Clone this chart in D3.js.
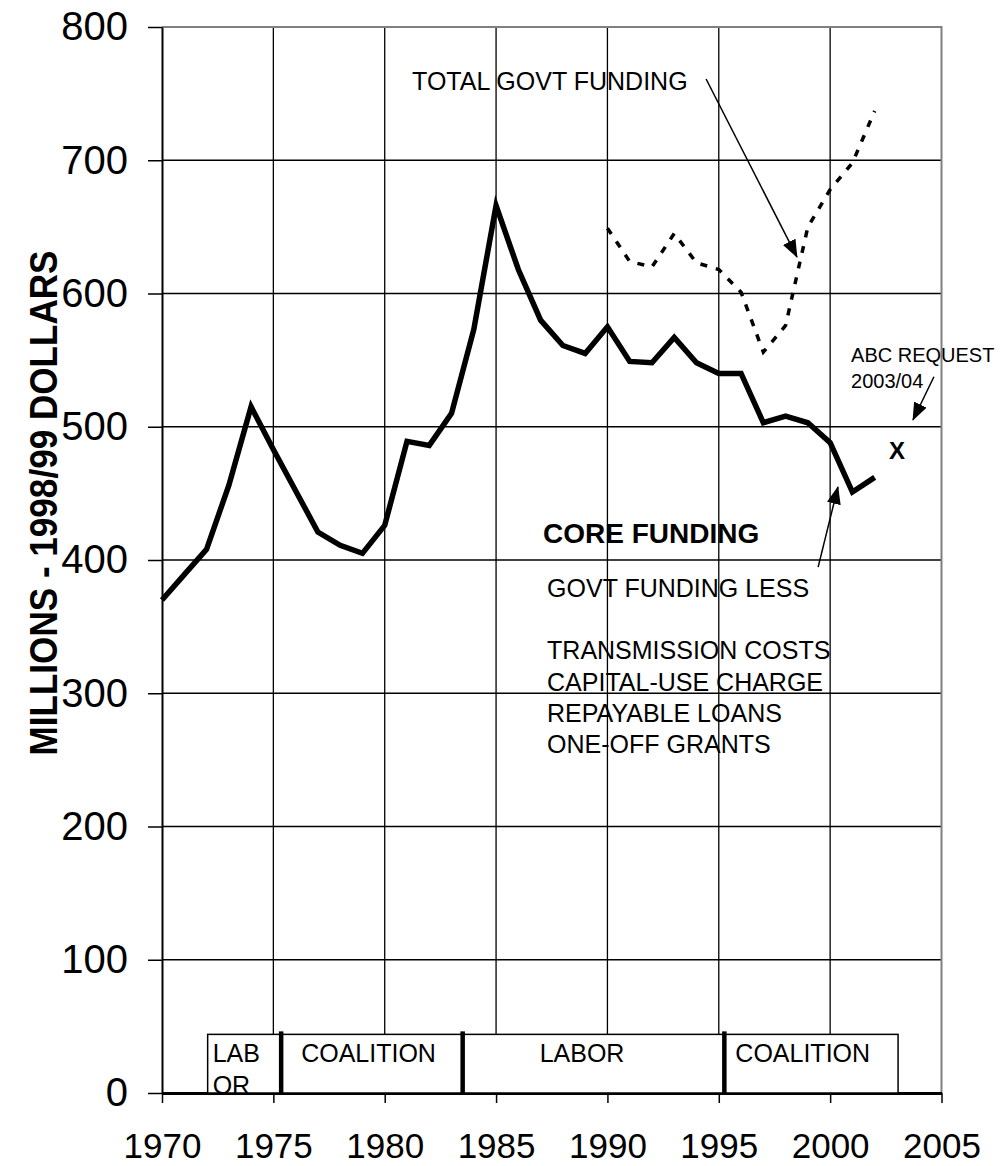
<!DOCTYPE html>
<html>
<head>
<meta charset="utf-8">
<script src="https://cdn.jsdelivr.net/npm/d3@7"></script>
<style>
body { margin: 0; background: #fff; }
svg text { font-family: Arial, "Liberation Sans", sans-serif; fill: #000; }
</style>
</head>
<body>
<div id="chart"></div>
<script>
// Data
const coreYears = [1970, 1971, 1972, 1973, 1974, 1975, 1976, 1977, 1978, 1979,
    1980, 1981, 1982, 1983, 1984, 1985, 1986, 1987, 1988, 1989,
    1990, 1991, 1992, 1993, 1994, 1995, 1996, 1997, 1998, 1999,
    2000, 2001, 2002];
const coreValues = [370, 389, 408, 456, 515, 483, 452, 421, 411, 405,
    426, 489, 486, 510, 573, 666, 618, 580, 561, 555,
    575, 549, 548, 567, 548, 540, 540, 503, 508, 503,
    488, 451, 462];

const totalYears = [1990, 1991, 1992, 1993, 1994, 1995, 1996, 1997, 1998, 1999, 2000, 2001, 2002];
const totalValues = [649, 624, 620, 645, 623, 618, 601, 556, 576, 650, 678, 698, 737];

const requestYear = 2003;
const requestValue = 482;

const eraStart = [1972.05, 1975.35, 1983.5, 1995.25];
const eraEnd = [1975.35, 1983.5, 1995.25, 2003.05];
const eraLabels = [['LAB', 'OR'], ['COALITION'], ['LABOR'], ['COALITION']];

const xTicks = [1970, 1975, 1980, 1985, 1990, 1995, 2000, 2005];
const yTicks = [0, 100, 200, 300, 400, 500, 600, 700, 800];

const coreNotes = ['GOVT FUNDING LESS', '', 'TRANSMISSION COSTS', 'CAPITAL-USE CHARGE',
    'REPAYABLE LOANS', 'ONE-OFF GRANTS'];

// Layout
const margin = {top: 27, right: 63.5, bottom: 73, left: 162};
const W = 1005, H = 1166;
const width = W - margin.left - margin.right;
const height = H - margin.top - margin.bottom;

const x = d3.scaleLinear().domain([1970, 2005]).range([0, width]);
const y = d3.scaleLinear().domain([0, 800]).range([height, 0]);

const svg = d3.select('#chart').append('svg')
    .attr('width', W)
    .attr('height', H);

const defs = svg.append('defs');
defs.append('marker')
    .attr('id', 'arrow')
    .attr('markerUnits', 'userSpaceOnUse')
    .attr('viewBox', '0 0 18 14')
    .attr('markerWidth', 18)
    .attr('markerHeight', 14)
    .attr('refX', 17)
    .attr('refY', 7)
    .attr('orient', 'auto')
    .append('path')
    .attr('d', 'M0,0 L18,7 L0,14 Z')
    .attr('fill', '#000');

const g = svg.append('g')
    .attr('transform', `translate(${margin.left},${margin.top})`);

// Grid
g.append('g').selectAll('line')
    .data(xTicks.slice(1, -1))
    .join('line')
    .attr('x1', d => x(d)).attr('x2', d => x(d))
    .attr('y1', 0).attr('y2', height)
    .attr('stroke', '#000').attr('stroke-width', 1.3);

g.append('g').selectAll('line')
    .data(yTicks.slice(1, -1))
    .join('line')
    .attr('x1', 0).attr('x2', width)
    .attr('y1', d => y(d)).attr('y2', d => y(d))
    .attr('stroke', '#000').attr('stroke-width', 1.3);

// Gray plot border (top / right)
g.append('path')
    .attr('d', `M0,${y(800)} H${x(2005)} V${height}`)
    .attr('fill', 'none')
    .attr('stroke', '#808080')
    .attr('stroke-width', 2);

// Axes
const xAxis = d3.axisBottom(x)
    .tickValues(xTicks)
    .tickFormat(d3.format('d'))
    .tickSize(10)
    .tickSizeOuter(0)
    .tickPadding(30);
const xAxisDraw = g.append('g')
    .attr('class', 'x axis')
    .attr('transform', `translate(0,${height})`)
    .call(xAxis);
xAxisDraw.select('.domain').attr('stroke', '#000').attr('stroke-width', 3);
xAxisDraw.selectAll('.tick line').attr('stroke', '#000').attr('stroke-width', 1.5);
xAxisDraw.selectAll('text')
    .style('font-size', '35px')
    .attr('fill', '#000')
    .attr('dy', '0.71em');

const yAxis = d3.axisLeft(y).tickValues(yTicks).tickSize(14).tickSizeOuter(0).tickPadding(20);
const yAxisDraw = g.append('g')
    .attr('class', 'y axis')
    .call(yAxis);
yAxisDraw.select('.domain').attr('stroke', '#000').attr('stroke-width', 2);
yAxisDraw.selectAll('.tick line').attr('stroke', '#000').attr('stroke-width', 1.5);
yAxisDraw.selectAll('text')
    .style('font-size', '40px')
    .attr('fill', '#000');

// Y title (slightly condensed, like the original)
svg.append('text')
    .attr('transform', 'translate(57,503) rotate(-90)')
    .attr('text-anchor', 'middle')
    .attr('textLength', 505)
    .attr('lengthAdjust', 'spacingAndGlyphs')
    .style('font-size', '39px')
    .style('font-weight', 'bold')
    .text('MILLIONS - 1998/99 DOLLARS');

// Era boxes
const boxTop = y(44);
const eras = g.append('g');
const clip = defs.append('clipPath').attr('id', 'era-clip');
clip.append('rect')
    .attr('x', x(eraStart[0])).attr('y', boxTop)
    .attr('width', x(eraEnd[3]) - x(eraStart[0]))
    .attr('height', height - boxTop);

eras.append('rect')
    .attr('x', x(eraStart[0])).attr('y', boxTop)
    .attr('width', x(eraEnd[3]) - x(eraStart[0]))
    .attr('height', height - boxTop)
    .attr('fill', '#fff')
    .attr('stroke', '#000')
    .attr('stroke-width', 1.5);

eras.selectAll('.divider')
    .data(eraStart.slice(1))
    .join('line')
    .attr('class', 'divider')
    .attr('x1', d => x(d)).attr('x2', d => x(d))
    .attr('y1', boxTop - 3).attr('y2', height)
    .attr('stroke', '#000').attr('stroke-width', 4.5);

const labelPad = [5, 20, 77, 11];
eras.selectAll('.era-label')
    .data(eraLabels)
    .join('text')
    .attr('class', 'era-label')
    .attr('clip-path', 'url(#era-clip)')
    .style('font-size', '25px')
    .each(function(d, i) {
        d3.select(this).selectAll('tspan')
            .data(d)
            .join('tspan')
            .attr('x', x(eraStart[i]) + labelPad[i])
            .attr('y', (t, j) => boxTop + 28 + j * 32)
            .text(t => t);
    });

// Lines
const line = d3.line()
    .x(d => x(d[0]))
    .y(d => y(d[1]));

g.append('path')
    .datum(d3.zip(totalYears, totalValues))
    .attr('d', line)
    .attr('fill', 'none')
    .attr('stroke', '#000')
    .attr('stroke-width', 3.5)
    .attr('stroke-dasharray', '7,9');

g.append('path')
    .datum(d3.zip(coreYears, coreValues))
    .attr('d', line)
    .attr('fill', 'none')
    .attr('stroke', '#000')
    .attr('stroke-width', 5.5)
    .attr('stroke-linejoin', 'miter');

// ABC request marker
g.append('text')
    .attr('x', x(requestYear))
    .attr('y', y(requestValue))
    .attr('dy', '0.36em')
    .attr('text-anchor', 'middle')
    .style('font-size', '24px')
    .style('font-weight', 'bold')
    .text('X');

// Annotations
g.append('text')
    .attr('x', x(1981.23)).attr('y', y(752.7))
    .style('font-size', '25px')
    .text('TOTAL GOVT FUNDING');

g.append('line')
    .attr('x1', x(1994.43)).attr('y1', y(761))
    .attr('x2', x(1998.51)).attr('y2', y(627.4))
    .attr('stroke', '#000').attr('stroke-width', 1.5)
    .attr('marker-end', 'url(#arrow)');

g.append('text')
    .attr('x', x(1987.11)).attr('y', y(412.8))
    .style('font-size', '28px')
    .style('font-weight', 'bold')
    .text('CORE FUNDING');

const notes = g.append('text')
    .style('font-size', '25px');
notes.selectAll('tspan')
    .data(coreNotes)
    .join('tspan')
    .attr('x', x(1987.29))
    .attr('y', (d, i) => y(372.2) + i * 31.2)
    .text(d => d);

g.append('line')
    .attr('x1', x(1999.46)).attr('y1', y(394.7))
    .attr('x2', x(2000.35)).attr('y2', y(454.8))
    .attr('stroke', '#000').attr('stroke-width', 1.5)
    .attr('marker-end', 'url(#arrow)');

const abc = g.append('text')
    .style('font-size', '20px');
abc.append('tspan').attr('x', x(2000.94)).attr('y', y(548.6)).text('ABC REQUEST');
abc.append('tspan').attr('x', x(2000.94)).attr('y', y(529.1)).text('2003/04');

g.append('line')
    .attr('x1', x(2004.66)).attr('y1', y(537.5))
    .attr('x2', x(2003.72)).attr('y2', y(505.1))
    .attr('stroke', '#000').attr('stroke-width', 1.5)
    .attr('marker-end', 'url(#arrow)');
</script>
</body>
</html>
